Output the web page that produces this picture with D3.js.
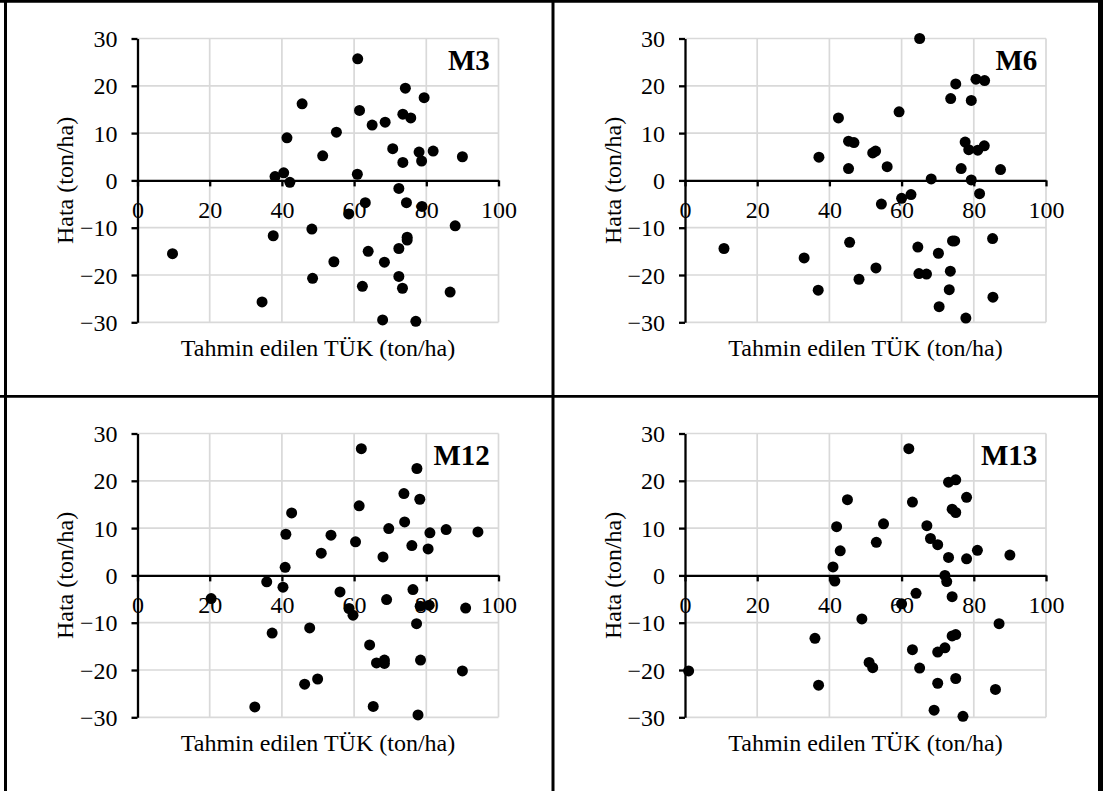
<!DOCTYPE html>
<html>
<head>
<meta charset="utf-8">
<script src="https://cdn.jsdelivr.net/npm/d3@7"></script>
<style>
    body { margin: 0; background: #fff; }
    svg { display: block; }
    text { font-family: "Liberation Serif", "Times New Roman", serif; fill: #000; }
</style>
</head>
<body>
<script>
// panel labels and axis ticks
var panelNames = ["M3", "M6", "M12", "M13"];
var xTicks = [0, 20, 40, 60, 80, 100];
var yTicks = [-30, -20, -10, 0, 10, 20, 30];
var xTitle = "Tahmin edilen TÜK (ton/ha)";
var yTitle = "Hata (ton/ha)";

// M3: predicted value vs error
var m3X = [61, 74.2, 79.4, 45.6, 61.5, 65, 68.6, 73.5, 75.7, 41.4, 55.1, 51.3, 70.7, 73.5, 78, 78.7, 81.9, 90, 60.9, 40.5, 38.1, 42.2, 72.4,
    63.1, 74.5, 58.5, 78.8, 88, 48.3, 37.6, 74.7, 74.7, 63.9, 72.4, 54.4, 68.4, 48.5, 72.4, 62.3, 73.4, 86.6, 67.9, 77.1, 9.7, 34.5];
var m3Y = [25.7, 19.5, 17.5, 16.2, 14.8, 11.7, 12.3, 14, 13.2, 9, 10.2, 5.2, 6.7, 3.8, 6, 4.1, 6.2, 5, 1.3, 1.6, 0.8, -0.4, -1.7,
    -4.7, -4.7, -7.1, -5.5, -9.6, -10.3, -11.7, -12, -12.6, -15, -14.4, -17.2, -17.3, -20.7, -20.3, -22.4, -22.8, -23.6, -29.5, -29.8, -15.5, -25.7];

// M6
var m6X = [37.1, 65, 80.6, 83, 75, 73.6, 79.3, 59.3, 42.5, 45.3, 46.8, 52, 52.8, 77.6, 78.6, 81.1, 82.9, 45.3, 56, 76.5, 87.4, 68.2, 79.3,
    81.6, 62.6, 60, 54.4, 45.6, 64.5, 70.2, 74.1, 74.7, 85.2, 52.9, 48.2, 64.8, 66.9, 73.5, 73.2, 85.3, 70.4, 77.8, 10.8, 33, 36.9];
var m6Y = [4.9, 30, 21.4, 21.1, 20.4, 17.3, 16.9, 14.5, 13.2, 8.3, 8, 5.8, 6.2, 8.1, 6.5, 6.4, 7.3, 2.5, 2.9, 2.5, 2.3, 0.3, 0.1,
    -2.8, -3, -3.8, -5, -13.1, -14.1, -15.4, -12.8, -12.8, -12.3, -18.5, -20.9, -19.7, -19.8, -19.2, -23.1, -24.7, -26.7, -29.1, -14.4, -16.4, -23.2];

// M12
var m12X = [35.8, 62, 77.4, 73.8, 78.2, 61.4, 42.7, 74, 69.6, 41.1, 53.6, 60.4, 81, 85.5, 94.3, 50.9, 68, 76, 80.5, 40.9, 40.3, 56.1,
    76.3, 69, 58.6, 59.7, 78.3, 80.8, 90.9, 77.3, 47.7, 37.3, 64.3, 66.2, 68.4, 68.4, 78.4, 90, 49.9, 46.3, 65.3, 77.7, 20.4, 32.5];
var m12Y = [-1.35, 26.8, 22.6, 17.3, 16.1, 14.7, 13.2, 11.3, 9.9, 8.7, 8.5, 7.1, 9, 9.7, 9.2, 4.7, 3.9, 6.3, 5.6, 1.7, -2.5, -3.5,
    -3, -5.1, -7, -8.4, -6.5, -6.3, -6.9, -10.2, -11.1, -12.2, -14.7, -18.5, -17.9, -18.6, -17.9, -20.2, -21.9, -23, -27.7, -29.5, -4.9, -27.8];

// M13
var m13X = [1, 62, 63, 73, 75, 78, 75, 74, 45, 55, 67, 42, 68, 70, 53, 43, 81, 90, 73, 78, 64, 41, 41.5, 72, 72.5,
    60, 74, 49, 87, 36, 74, 75, 72, 70, 63, 51, 52, 65, 75, 70, 37, 86, 69, 77];
var m13Y = [-20.2, 26.8, 15.5, 19.7, 20.2, 16.5, 13.3, 14, 16, 10.9, 10.5, 10.3, 7.8, 6.5, 7, 5.2, 5.3, 4.3, 3.8, 3.5, -3.8, 1.8, -1.2, 0, -1.3,
    -6, -4.5, -9.2, -10.2, -13.3, -12.8, -12.5, -15.3, -16.2, -15.7, -18.4, -19.5, -19.6, -21.8, -22.8, -23.2, -24.1, -28.5, -29.8];

var panelX = [m3X, m6X, m12X, m13X];
var panelY = [m3Y, m6Y, m12Y, m13Y];

var width = 1103;
var height = 791;
var fontSize = 24;

var svg = d3.select("body").append("svg")
    .attr("width", width)
    .attr("height", height);

// one chart cell of the 2x2 table
function drawPanel(index, ox, oy) {
    let g = svg.append("g").attr("transform", "translate(" + ox + "," + oy + ")");

    let x = d3.scaleLinear().domain([0, 100]).range([137.5, 498.5]);
    let y = d3.scaleLinear().domain([-30, 30]).range([322.3, 38.5]);

    // light grid
    g.selectAll(".vgrid").data(xTicks.slice(1)).enter().append("line")
        .attr("x1", d => x(d)).attr("x2", d => x(d))
        .attr("y1", y(30)).attr("y2", y(-30))
        .attr("stroke", "#d9d9d9").attr("stroke-width", 1.7);
    g.selectAll(".hgrid").data(yTicks.filter(d => d != 0)).enter().append("line")
        .attr("x1", x(0)).attr("x2", x(100))
        .attr("y1", d => y(d)).attr("y2", d => y(d))
        .attr("stroke", "#d9d9d9").attr("stroke-width", 1.7);

    // axes
    let xAxis = g.append("g")
        .attr("transform", "translate(0," + y(0) + ")")
        .call(d3.axisBottom(x).tickValues(xTicks).tickSize(6).tickSizeOuter(0).tickPadding(15));
    let yAxis = g.append("g")
        .attr("transform", "translate(" + x(0) + ",0)")
        .call(d3.axisLeft(y).tickValues(yTicks).tickSize(6).tickSizeOuter(0).tickPadding(14));

    [xAxis, yAxis].forEach(function (a) {
        a.attr("font-family", null).attr("font-size", null);
        a.select(".domain").attr("stroke", "#000").attr("stroke-width", 2.3);
        a.selectAll(".tick line").attr("stroke", "#000").attr("stroke-width", 2.3);
        a.selectAll(".tick text")
            .attr("font-size", fontSize)
            .attr("fill", "#000");
    });
    yAxis.selectAll(".tick text").attr("dy", "0.34em");

    // points
    let xs = panelX[index];
    let ys = panelY[index];
    g.selectAll(".dot").data(d3.range(xs.length)).enter().append("circle")
        .attr("cx", i => x(xs[i]))
        .attr("cy", i => y(ys[i]))
        .attr("r", 5.5)
        .attr("fill", "#000");

    // titles
    g.append("text")
        .attr("x", (x(0) + x(100)) / 2)
        .attr("y", 356)
        .attr("text-anchor", "middle")
        .attr("font-size", fontSize)
        .text(xTitle);

    g.append("text")
        .attr("transform", "translate(73," + (y(0)) + ") rotate(-90)")
        .attr("text-anchor", "middle")
        .attr("font-size", fontSize)
        .text(yTitle);

    g.append("text")
        .attr("x", x(97.6))
        .attr("y", y(23.3))
        .attr("text-anchor", "end")
        .attr("font-size", 29)
        .attr("font-weight", "bold")
        .text(panelNames[index]);
}

drawPanel(0, 0, 0);
drawPanel(1, 547.5, 0);
drawPanel(2, 0, 395);
drawPanel(3, 547.5, 395);

// table frame
var frame = [
    [5.5, 0, 5.5, height, 3],
    [553, 0, 553, height, 3],
    [1100.5, 0, 1100.5, height, 5],
    [0, 1.3, width, 1.3, 2.7],
    [0, 396.3, width, 396.3, 2.7]
];
svg.selectAll(".frame").data(frame).enter().append("line")
    .attr("x1", d => d[0]).attr("y1", d => d[1])
    .attr("x2", d => d[2]).attr("y2", d => d[3])
    .attr("stroke", "#000")
    .attr("stroke-width", d => d[4]);
</script>
</body>
</html>
